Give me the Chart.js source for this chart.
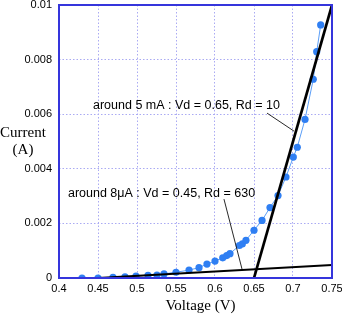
<!DOCTYPE html>
<html>
<head>
<meta charset="utf-8">
<script src="https://cdn.jsdelivr.net/npm/chart.js@4"></script>
<style>
  html, body { margin: 0; padding: 0; background: #ffffff; }
  canvas { display: block; }
</style>
</head>
<body>
<canvas id="c" width="342" height="314"></canvas>
<script>
// ---- data ----
const voltage = [0.4295, 0.45, 0.4692, 0.4846, 0.4987, 0.5141, 0.5256, 0.5346, 0.55, 0.5667,
                 0.5795, 0.5897, 0.6, 0.6099, 0.615, 0.6192, 0.6312, 0.635, 0.6397, 0.65,
                 0.6603, 0.6705, 0.6808, 0.691, 0.7004, 0.7055, 0.7154, 0.726, 0.7304, 0.7355];
const current = [0, 0, 0.00002, 0.00004, 0.00007, 0.0001, 0.00011, 0.00015, 0.00021, 0.00029,
                 0.00038, 0.00051, 0.00062, 0.00074, 0.00082, 0.00089, 0.00119, 0.00125, 0.00138, 0.00175,
                 0.00211, 0.00258, 0.00302, 0.0037, 0.00443, 0.00479, 0.00581, 0.00728, 0.00829, 0.00927];

// fit lines (endpoints, data units)
const fit5mA_V = [0.65, 0.75];
const fit5mA_I = [0, 0.01];
const fit8uA_V = [0.45, 0.75];
const fit8uA_I = [0, 0.000476];

// tick labels
const xTicks = [0.4, 0.45, 0.5, 0.55, 0.6, 0.65, 0.7, 0.75];
const xTickLabels = ['0.4', '0.45', '0.5', '0.55', '0.6', '0.65', '0.7', '0.75'];
const yTicks = [0, 0.002, 0.004, 0.006, 0.008, 0.01];
const yTickLabels = ['0', '0.002', '0.004', '0.006', '0.008', '0.01'];

// annotations (text anchor and pointer line, data units)
const annotTexts = ['around 5 mA : Vd = 0.65, Rd = 10', 'around 8\u03bcA : Vd = 0.45, Rd = 630'];
const annotTextV = [0.4436, 0.4115];
const annotTextI = [0.0063, 0.00308];
const annotLineV = [[0.6667, 0.7013], [0.6115, 0.6346]];
const annotLineI = [[0.00604, 0.00538], [0.00289, 0.00033]];

const xTitle = 'Voltage (V)';
const yTitle = ['Current', '(A)'];

const toPts = (xs, ys) => xs.map((x, i) => ({ x: x, y: ys[i] }));

const FRAME = '#3535dc';
const SANS = '"Liberation Sans", Arial, Helvetica, sans-serif';
const SERIF = '"Liberation Serif", "Times New Roman", serif';

const overlay = {
  id: 'overlay',
  afterDatasetsDraw(chart) {
    const ctx = chart.ctx;
    const xs = chart.scales.x, ys = chart.scales.y;
    const a = chart.chartArea;
    ctx.save();
    // pointer lines
    ctx.strokeStyle = '#111111';
    ctx.lineWidth = 0.9;
    for (let k = 0; k < annotLineV.length; k++) {
      ctx.beginPath();
      ctx.moveTo(xs.getPixelForValue(annotLineV[k][0]), ys.getPixelForValue(annotLineI[k][0]));
      ctx.lineTo(xs.getPixelForValue(annotLineV[k][1]), ys.getPixelForValue(annotLineI[k][1]));
      ctx.stroke();
    }
    // annotation text
    ctx.fillStyle = '#000000';
    ctx.font = '12.5px ' + SANS;
    ctx.textAlign = 'left';
    ctx.textBaseline = 'middle';
    for (let k = 0; k < annotTexts.length; k++) {
      ctx.fillText(annotTexts[k], xs.getPixelForValue(annotTextV[k]), ys.getPixelForValue(annotTextI[k]));
    }
    // frame
    ctx.strokeStyle = FRAME;
    ctx.lineWidth = 2;
    ctx.strokeRect(a.left, a.top, a.right - a.left, a.bottom - a.top);
    // axis titles
    ctx.fillStyle = '#000000';
    ctx.font = '15px ' + SERIF;
    ctx.textAlign = 'center';
    ctx.textBaseline = 'middle';
    ctx.fillText(xTitle, (a.left + a.right) / 2 + 5, 306);
    ctx.fillText(yTitle[0], 23, 133);
    ctx.fillText(yTitle[1], 23, 150);
    ctx.restore();
  }
};

new Chart(document.getElementById('c'), {
  type: 'scatter',
  data: {
    datasets: [
      {
        data: toPts(fit5mA_V, fit5mA_I),
        showLine: true, borderColor: '#000000', borderWidth: 2.7,
        pointRadius: 0, order: 0
      },
      {
        data: toPts(fit8uA_V, fit8uA_I),
        showLine: true, borderColor: '#000000', borderWidth: 2,
        pointRadius: 0, order: 0
      },
      {
        data: toPts(voltage, current),
        showLine: true, borderColor: '#5b9ef7', borderWidth: 1,
        pointRadius: 3.6, pointBackgroundColor: '#2f7ff3', pointBorderWidth: 0,
        order: 1
      }
    ]
  },
  options: {
    responsive: false,
    animation: false,
    devicePixelRatio: 1,
    layout: { padding: { left: 0, right: 10, top: 5, bottom: 0 } },
    plugins: { legend: { display: false }, tooltip: { enabled: false } },
    scales: {
      x: {
        type: 'linear', min: 0.4, max: 0.75,
        afterBuildTicks: s => { s.ticks = xTicks.map(v => ({ value: v })); },
        afterFit: s => { s.height = 36; s.paddingLeft = 0; s.paddingRight = 0; },
        ticks: {
          callback: (v, i) => xTickLabels[i],
          color: '#000000', font: { family: SANS, size: 11 }, padding: 4,
          maxRotation: 0, autoSkip: false
        },
        grid: { color: '#aaaaf3', lineWidth: 1, drawTicks: false },
        border: { display: false, dash: [1.5, 2] }
      },
      y: {
        type: 'linear', min: 0, max: 0.01,
        afterBuildTicks: s => { s.ticks = yTicks.map(v => ({ value: v })); },
        afterFit: s => { s.width = 59; s.paddingTop = 0; s.paddingBottom = 0; },
        ticks: {
          callback: (v, i) => yTickLabels[i],
          color: '#000000', font: { family: SANS, size: 11 }, padding: 7,
          autoSkip: false
        },
        grid: { color: '#aaaaf3', lineWidth: 1, drawTicks: false },
        border: { display: false, dash: [1.5, 2] }
      }
    }
  },
  plugins: [overlay]
});
</script>
</body>
</html>
